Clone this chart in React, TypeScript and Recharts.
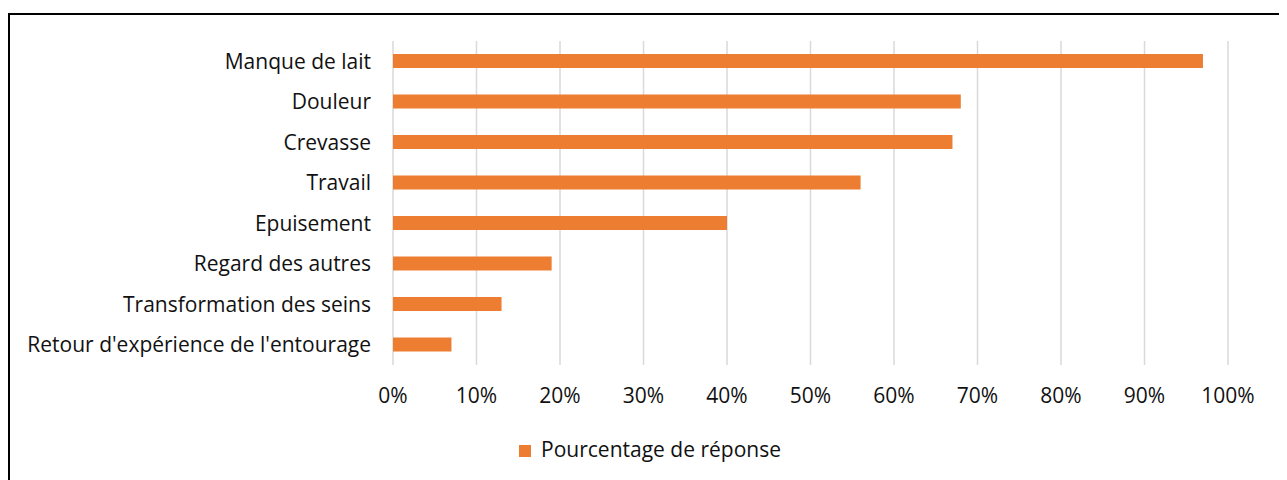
import { BarChart, Bar, XAxis, YAxis, CartesianGrid, Legend } from 'recharts'

const categories = [
  'Manque de lait',
  'Douleur',
  'Crevasse',
  'Travail',
  'Epuisement',
  'Regard des autres',
  'Transformation des seins',
  "Retour d'expérience de l'entourage",
]
const responses = [97, 68, 67, 56, 40, 19, 13, 7]
const xTicks = [0, 10, 20, 30, 40, 50, 60, 70, 80, 90, 100]

const rows = categories.map((name, i) => ({ name, value: responses[i] }))

const font = '"Open Sans", Lato, sans-serif'

export default function App() {
  return (
    <div
      style={{
        marginTop: 5,
        width: 1274,
        height: 470,
        border: '2px solid #000',
        borderBottom: 'none',
        fontFamily: font,
        background: '#fff',
      }}
    >
      <BarChart
        width={1274}
        height={470}
        data={rows}
        layout="vertical"
        margin={{ top: 26, right: 56, left: 0, bottom: 52 }}
        barSize={14}
      >
        <CartesianGrid horizontal={false} stroke="#d9d9d9" strokeWidth={1.5} />
        <XAxis
          type="number"
          domain={[0, 100]}
          ticks={xTicks}
          tickFormatter={(v) => v + '%'}
          axisLine={false}
          tickLine={false}
          tickSize={0}
          tickMargin={23}
          tick={{ fontSize: 21, fill: '#111', fontFamily: font }}
          height={40}
        />
        <YAxis
          type="category"
          dataKey="name"
          width={383}
          axisLine={false}
          tickLine={false}
          tickSize={0}
          tickMargin={22}
          tick={{ fontSize: 21, fill: '#111', fontFamily: font }}
        />
        <Legend
          verticalAlign="bottom"
          iconType="square"
          iconSize={12}
          wrapperStyle={{ top: 420, left: 36, fontSize: 21, color: '#111', fontFamily: font }}
          formatter={(v) => <span style={{ color: '#111', marginLeft: 6 }}>{v}</span>}
        />
        <Bar dataKey="value" name="Pourcentage de réponse" fill="#ED7D31" isAnimationActive={false} />
      </BarChart>
    </div>
  )
}
